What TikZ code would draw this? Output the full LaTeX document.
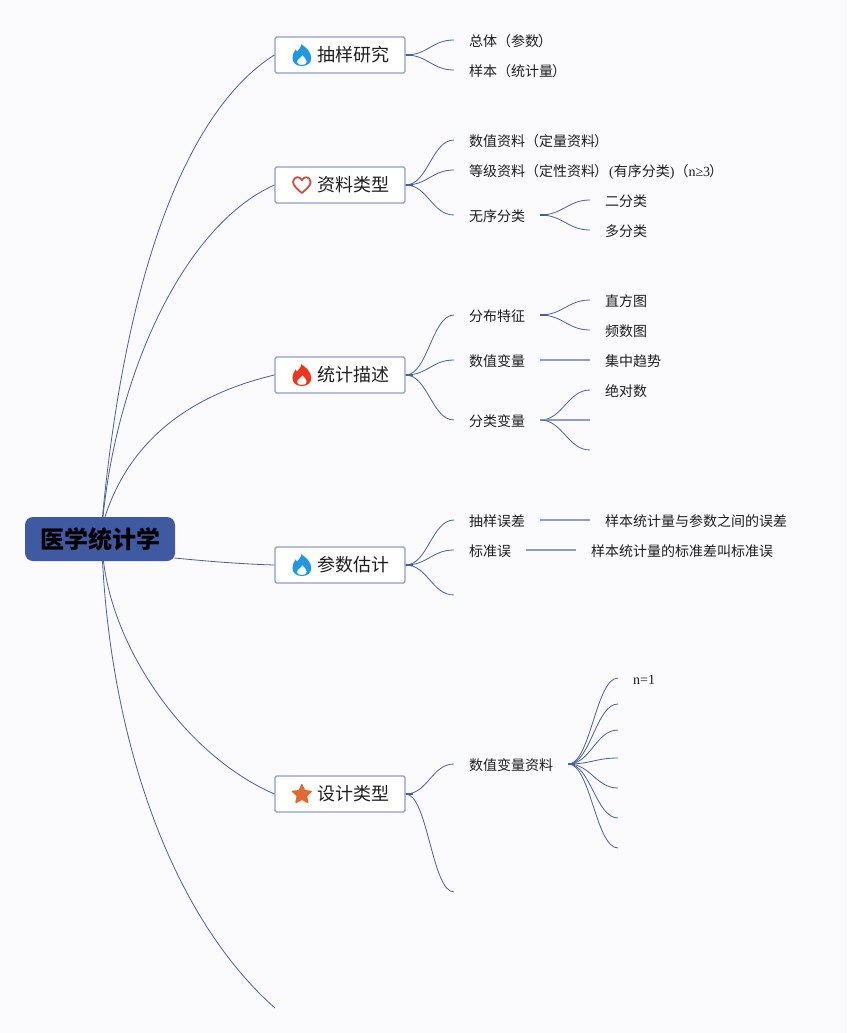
\documentclass[tikz,border=0pt]{standalone}
\usepackage{fontspec}
\setmainfont{Liberation Serif}
\newfontfamily\cjk{Noto Sans CJK SC}
\newcommand\lat[1]{{\rmfamily\fontspec{Liberation Serif}#1}}
\newcommand\rp{\kern-1pt）\kern1pt}
\definecolor{bgc}{HTML}{FBFBFD}
\definecolor{linec}{HTML}{4A5E9F}
\definecolor{stubc}{HTML}{8F9CC5}
\definecolor{boxc}{HTML}{8E9CC6}
\definecolor{rootc}{HTML}{3F5AA2}
\definecolor{txt}{HTML}{1E1E1E}
\definecolor{fireblue}{HTML}{1E98E2}
\definecolor{firered}{HTML}{F0351C}
\definecolor{heartc}{HTML}{D24A3E}
\definecolor{starc}{HTML}{E4692F}
\tikzset{
  x=1pt,y=-1pt,
  rootbox/.style={draw=none,fill=rootc,rounded corners=8pt,minimum width=150pt,minimum height=44pt,inner sep=0pt,font=\cjk\bfseries\fontsize{24}{24}\selectfont,text=black},
  topicbox/.style={draw=boxc,line width=1.3pt,fill=white,rounded corners=1.5pt,minimum width=130pt,minimum height=36pt,inner sep=0pt,font=\cjk\fontsize{18}{18}\selectfont,text=txt},
  leaf/.style={anchor=west,inner xsep=15pt,inner ysep=0pt,text height=13pt,text depth=0.4pt,font=\cjk\fontsize{14}{14}\selectfont,text=txt},
  mainline/.style={draw=linec,line width=0.8pt},
  br/.style={draw=linec,line width=0.8pt},
  stubline/.style={draw=linec,line width=1.5pt},
  straightbr/.style={draw=stubc,line width=1.4pt},
}
\newcommand\topictext[1]{\makebox[130pt][l]{\hspace*{42pt}\raisebox{-1.8pt}{#1}}}
\newcommand\brc[2]{\draw[br] (#1) .. controls +(22,0) and +(-22,0) .. (#2);}
\newcommand\stub[1]{\draw[stubline] (#1) -- +(7,0);}
\newcommand\flameicon[2]{%
  \begin{scope}[shift={(#1.west)},xshift=27.5pt]
    \fill[#2,even odd rule] (-1,-11)
      .. controls (0,-8) and (-3,-6) .. (-4.8,-3.5)
      .. controls (-5.2,-4.2) and (-5.8,-5) .. (-6.4,-5.6)
      .. controls (-8.2,-2.5) and (-9.4,0) .. (-9.4,3)
      .. controls (-9.4,8) and (-5.5,11) .. (0,11)
      .. controls (5.5,11) and (9.4,8) .. (9.4,3)
      .. controls (9.4,-3) and (4,-8) .. (-1,-11) -- cycle
      (0.5,0)
      .. controls (-0.5,3) and (-5,4) .. (-5,7)
      .. controls (-5,9) and (-2.5,10) .. (0,10)
      .. controls (2.8,10) and (5,9) .. (5,6.5)
      .. controls (5,4) and (2,2.5) .. (0.5,0) -- cycle;
  \end{scope}}
\begin{document}
\begin{tikzpicture}
\useasboundingbox (0,0) rectangle (847,1033);
\fill[bgc] (0,0) rectangle (847,1033);

% root and topics
\node[rootbox] (root) at (100,539) {\raisebox{-2pt}{医学统计学}};
\node[topicbox] (t1) at (340,55) {\topictext{抽样研究}};
\node[topicbox] (t2) at (340,185) {\topictext{资料类型}};
\node[topicbox] (t3) at (340,375) {\topictext{统计描述}};
\node[topicbox] (t4) at (340,565) {\topictext{参数估计}};
\node[topicbox] (t5) at (340,794) {\topictext{设计类型}};
\coordinate (t6) at (275,1008);

% icons
\flameicon{t1}{fireblue}
\flameicon{t3}{firered}
\flameicon{t4}{fireblue}
\begin{scope}[shift={(t2.west)},xshift=27.5pt]
  \draw[heartc,line width=1.8pt,line join=round] (0,8)
    .. controls (-3,5.4) and (-8.8,1) .. (-8.8,-3)
    .. controls (-8.8,-6) and (-6.5,-7.8) .. (-4.5,-7.8)
    .. controls (-2.5,-7.8) and (-1,-6.7) .. (0,-4.8)
    .. controls (1,-6.7) and (2.5,-7.8) .. (4.5,-7.8)
    .. controls (6.5,-7.8) and (8.8,-6) .. (8.8,-3)
    .. controls (8.8,1) and (3,5.4) .. (0,8) -- cycle;
\end{scope}
\begin{scope}[shift={(t5.west)},xshift=27.5pt]
  \fill[starc,draw=starc,line width=1.6pt,line join=round]
    (0,-9.2) -- (2.7,-3.2) -- (9.2,-2.6) -- (4.4,1.8) -- (5.8,8.3) -- (0,5) -- (-5.8,8.3) -- (-4.4,1.8) -- (-9.2,-2.6) -- (-2.7,-3.2) -- cycle;
\end{scope}

% leaves
\node[leaf] (a1) at (454,40) {总体（参数\rp};
\node[leaf] (a2) at (454,70) {样本（统计量\rp};
\node[leaf] (b1) at (454,140) {数值资料（定量资料\rp};
\node[leaf] (b2) at (454,170) {等级资料（定性资料\rp\lat{(}有序分类\lat{)}（\lat{n≥3}\rp};
\node[leaf] (b3) at (454,215) {无序分类};
\node[leaf] (b31) at (590,200) {二分类};
\node[leaf] (b32) at (590,230) {多分类};
\node[leaf] (c1) at (454,315) {分布特征};
\node[leaf] (c2) at (454,360) {数值变量};
\node[leaf] (c3) at (454,420) {分类变量};
\node[leaf] (c11) at (590,300) {直方图};
\node[leaf] (c12) at (590,330) {频数图};
\node[leaf] (c21) at (590,360) {集中趋势};
\node[leaf] (c31) at (590,390) {绝对数};
\coordinate (c32) at (590,420);
\coordinate (c33) at (590,450);
\node[leaf] (d1) at (454,520) {抽样误差};
\node[leaf] (d2) at (454,550) {标准误};
\coordinate (d3) at (454,595);
\node[leaf] (d11) at (590,520) {样本统计量与参数之间的误差};
\node[leaf] (d21) at (576,550) {样本统计量的标准差叫标准误};
\node[leaf] (e1) at (454,764) {数值变量资料};
\coordinate (e2) at (454,892);
\node[leaf] (e11) at (618,678) {\lat{n=1}};
\coordinate (e12) at (618,704);
\coordinate (e13) at (618,730);
\coordinate (e14) at (618,758);
\coordinate (e15) at (618,788);
\coordinate (e16) at (618,818);
\coordinate (e17) at (618,848);

% root connectors
\draw[mainline] ([xshift=2.5pt]root.north) .. controls (128,250) and (195,105) .. (t1.west);
\draw[mainline] ([xshift=3pt]root.north) .. controls (118,370) and (185,225) .. (t2.west);
\draw[mainline] ([xshift=5pt]root.north) .. controls (130,440) and (190,395) .. (t3.west);
\draw[mainline] ([xshift=-0.7pt,yshift=-19pt]root.east) .. controls (205,561) and (240,564) .. (t4.west);
\draw[mainline] ([xshift=3.5pt]root.south) .. controls (114,650) and (185,755) .. (t5.west);
\draw[mainline] ([xshift=2.5pt]root.south) .. controls (112,740) and (170,915) .. (t6);

% branches
\stub{t1.east}\stub{t2.east}\stub{t3.east}\stub{t4.east}\stub{t5.east}
\stub{b3.east}\stub{c1.east}\stub{c3.east}\stub{e1.east}
\brc{t1.east}{a1.west}\brc{t1.east}{a2.west}
\brc{t2.east}{b1.west}\brc{t2.east}{b2.west}\brc{t2.east}{b3.west}
\brc{b3.east}{b31.west}\brc{b3.east}{b32.west}
\brc{t3.east}{c1.west}\brc{t3.east}{c2.west}\brc{t3.east}{c3.west}
\brc{c1.east}{c11.west}\brc{c1.east}{c12.west}
\draw[straightbr] (c2.east) -- (c21.west);
\brc{c3.east}{c31.west}\draw[straightbr] (c3.east) -- (c32);\brc{c3.east}{c33}
\brc{t4.east}{d1.west}\brc{t4.east}{d2.west}\brc{t4.east}{d3}
\draw[straightbr] (d1.east) -- (d11.west);
\draw[straightbr] (d2.east) -- (d21.west);
\brc{t5.east}{e1.west}\brc{t5.east}{e2}
\brc{e1.east}{e11.west}\brc{e1.east}{e12}\brc{e1.east}{e13}\brc{e1.east}{e14}\brc{e1.east}{e15}\brc{e1.east}{e16}\brc{e1.east}{e17}
\end{tikzpicture}
\end{document}
